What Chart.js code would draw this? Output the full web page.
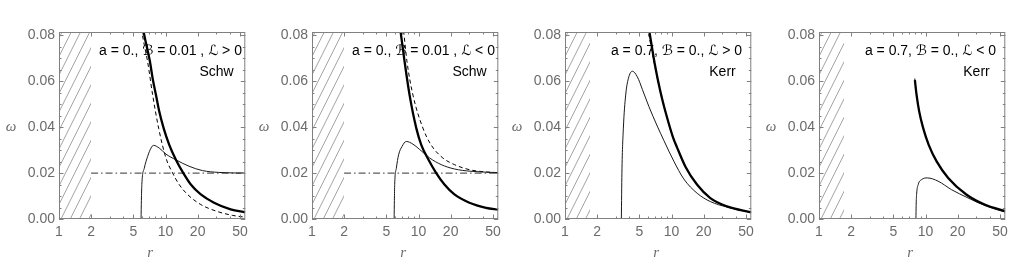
<!DOCTYPE html>
<html lang="en">
<head>
<meta charset="UTF-8">
<title>Circular orbit frequencies</title>
<script src="https://cdn.jsdelivr.net/npm/chart.js@4.4.1/dist/chart.umd.min.js"></script>
<style>
    html, body { margin: 0; padding: 0; background: #fff; }
    #wrap { position: relative; width: 1020px; height: 275px; overflow: hidden; }
    #wrap canvas { position: absolute; top: 0; }
</style>
</head>
<body>
<div id="wrap">
    <canvas id="c1" width="253" height="275" style="left:0px"></canvas>
    <canvas id="c2" width="253" height="275" style="left:253px"></canvas>
    <canvas id="c3" width="253" height="275" style="left:506px"></canvas>
    <canvas id="c4" width="253" height="275" style="left:760px"></canvas>
</div>
<script>
    // axis ticks
    var xTicks = [1, 2, 5, 10, 20, 50];
    var xMinor = [3, 4, 6, 7, 8, 9, 30, 40];
    var yTicks = [0, 0.02, 0.04, 0.06, 0.08];
    var yMinor = [0.005, 0.01, 0.015, 0.025, 0.03, 0.035, 0.045, 0.05, 0.055, 0.065, 0.07, 0.075];

    // panel 1: a = 0, B = 0.01, L > 0
    var p1ThickR = [6.05, 6.23, 7.14, 7.57, 8.13, 8.73, 9.59, 10.83, 12.5, 14.63, 17.26, 21.4, 28.5, 40.8, 56];
    var p1ThickW = [0.085, 0.0815, 0.0685, 0.0612, 0.054, 0.0468, 0.0396, 0.0323, 0.0258, 0.0201, 0.015, 0.0107, 0.0071, 0.0042, 0.0029];
    var p1DashR = [5.85, 6.01, 6.79, 7.57, 8.61, 10.08, 11.63, 13.43, 16.07, 21.4, 29.6, 42.3, 56];
    var p1DashW = [0.086, 0.0815, 0.0685, 0.054, 0.0396, 0.0266, 0.0201, 0.015, 0.0107, 0.0063, 0.0035, 0.0016, 0.0008];
    var p1ThinR = [5.89, 5.93, 5.99, 6.32, 6.79, 7.3, 7.7, 8.73, 10.08, 12.5, 16.6, 22.2, 31.6, 56];
    var p1ThinW = [0, 0.008, 0.015, 0.0222, 0.0273, 0.0309, 0.0321, 0.0309, 0.0283, 0.0258, 0.023, 0.0211, 0.0203, 0.02];

    // panel 2: a = 0, B = 0.01, L < 0
    var p2ThickR = [6.6, 6.79, 7.4, 8.24, 9.52, 10.6, 12.4, 14.6, 17.5, 21.7, 30, 43, 56];
    var p2ThickW = [0.086, 0.0815, 0.0685, 0.054, 0.0396, 0.0323, 0.0258, 0.0201, 0.015, 0.0107, 0.0071, 0.0049, 0.0041];
    var p2DashR = [7.05, 7.25, 7.79, 8.86, 10.99, 13.1, 16.9, 21.7, 30, 43, 56];
    var p2DashW = [0.085, 0.0815, 0.0685, 0.054, 0.0396, 0.0323, 0.0266, 0.0237, 0.0215, 0.0205, 0.0202];
    var p2ThinR = [5.9, 5.93, 5.97, 6.19, 6.5, 6.99, 7.67, 8.86, 10.6, 12.7, 16.3, 21.7, 31, 56];
    var p2ThinW = [0, 0.008, 0.015, 0.0222, 0.028, 0.0316, 0.0338, 0.0326, 0.0297, 0.0266, 0.0237, 0.0218, 0.0208, 0.0202];

    // Larmor line (panels 1 and 2)
    var larmorR = [2, 56];
    var larmorW = [0.02, 0.02];

    // panel 3: a = 0.7, B = 0, L > 0
    var p3ThickR = [5.95, 6.2, 6.5, 6.93, 7.45, 8.17, 9.1, 10.3, 11.3, 13.5, 17.4, 23.1, 33.1, 56];
    var p3ThickW = [0.087, 0.0815, 0.0757, 0.068, 0.0605, 0.0522, 0.044, 0.0357, 0.031, 0.0228, 0.0149, 0.0091, 0.0055, 0.0029];
    var p3DashR = [5.8, 6.05, 6.4, 6.88, 7.42, 8.15, 9.08, 10.28, 11.28, 13.48, 17.4, 23.1, 33.1, 56];
    var p3DashW = [0.087, 0.0815, 0.0757, 0.068, 0.0605, 0.0522, 0.044, 0.0357, 0.031, 0.0228, 0.0149, 0.0091, 0.0055, 0.0029];
    var p3ThinR = [3.38, 3.42, 3.53, 3.71, 3.93, 4.29, 4.77, 5.32, 6.13, 7.34, 8.47, 10.5, 13.0, 17.4, 23.1, 33.1, 56];
    var p3ThinW = [0, 0.02, 0.0396, 0.054, 0.0612, 0.0644, 0.062, 0.0565, 0.049, 0.0405, 0.0342, 0.0252, 0.0175, 0.0112, 0.0076, 0.0052, 0.0028];

    // panel 4: a = 0.7, B = 0, L < 0
    var p4ThickR = [7.94, 8.24, 8.72, 9.5, 10.7, 12.7, 16.3, 24.1, 35.8, 56];
    var p4ThickW = [0.0605, 0.054, 0.0468, 0.0396, 0.0323, 0.0251, 0.0179, 0.0107, 0.0063, 0.0034];
    var p4DashR = [7.92, 8.22, 8.7, 9.5, 10.7, 12.7, 16.3, 24.1, 35.8, 56];
    var p4DashW = [0.0612, 0.0545, 0.0472, 0.0398, 0.0325, 0.0252, 0.018, 0.0108, 0.0063, 0.0034];
    var p4ThinR = [8.12, 8.16, 8.24, 8.53, 9.2, 10.4, 13.1, 17.5, 25, 37.1, 56];
    var p4ThinW = [0, 0.006, 0.0107, 0.015, 0.0172, 0.0179, 0.0165, 0.0128, 0.0092, 0.0056, 0.003];

    var labels1 = ['a = 0., \u212C = 0.01 , \u2112 > 0', 'a = 0., \u212C = 0.01 , \u2112 < 0',
                   'a = 0.7, \u212C = 0., \u2112 > 0', 'a = 0.7, \u212C = 0., \u2112 < 0'];
    var labels2 = ['Schw', 'Schw', 'Kerr', 'Kerr'];
    var horizons = [2, 2, 1.714, 1.714];

    var GRAY_TEXT = '#6b6b6b';
    var GRAY_FRAME = '#808080';

    function pts(rs, ws) {
        return rs.map(function(r, i) { return { x: r, y: ws[i] }; });
    }

    // hatching, frame with inward ticks, labels and axis titles
    var framePlugin = {
        id: 'frame',
        beforeDatasetsDraw: function(chart, args, o) {
            var ctx = chart.ctx, a = chart.chartArea;
            var xh = chart.scales.x.getPixelForValue(o.horizon);
            ctx.save();
            ctx.beginPath();
            ctx.rect(a.left, a.top, xh - a.left, a.bottom - a.top);
            ctx.clip();
            ctx.strokeStyle = '#a3a3a3';
            ctx.lineWidth = 1;
            ctx.beginPath();
            for (var y0 = a.top + 6; y0 < a.bottom + 100; y0 += 18.5) {
                ctx.moveTo(a.left, y0);
                ctx.lineTo(a.left + 50, y0 - 100);
            }
            ctx.stroke();
            ctx.restore();
        },
        afterDraw: function(chart, args, o) {
            var ctx = chart.ctx, a = chart.chartArea;
            var xs = chart.scales.x, ys = chart.scales.y;
            ctx.save();

            // labels
            ctx.fillStyle = '#000';
            ctx.font = '14px "Liberation Sans", Arial, "DejaVu Sans", sans-serif';
            ctx.textAlign = 'center';
            ctx.textBaseline = 'middle';
            ctx.fillText(o.line1, a.left + 111.5, 51);
            ctx.fillText(o.line2, a.left + 157.5, 72);

            // frame
            ctx.strokeStyle = GRAY_FRAME;
            ctx.lineWidth = 1;
            ctx.strokeRect(a.left + 0.5, a.top + 0.5, a.right - a.left - 1, a.bottom - a.top - 1);

            ctx.beginPath();
            function xTick(v, len) {
                var px = Math.round(xs.getPixelForValue(v)) + 0.5;
                ctx.moveTo(px, a.bottom); ctx.lineTo(px, a.bottom - len);
                ctx.moveTo(px, a.top); ctx.lineTo(px, a.top + len);
            }
            function yTick(v, len) {
                var py = Math.round(ys.getPixelForValue(v)) + 0.5;
                ctx.moveTo(a.left, py); ctx.lineTo(a.left + len, py);
                ctx.moveTo(a.right, py); ctx.lineTo(a.right - len, py);
            }
            xTicks.forEach(function(v) { xTick(v, 4.5); });
            xMinor.forEach(function(v) { xTick(v, 2.5); });
            yTicks.forEach(function(v) { yTick(v, 4.5); });
            yMinor.forEach(function(v) { yTick(v, 2.5); });
            ctx.stroke();

            // axis titles
            ctx.fillStyle = GRAY_TEXT;
            ctx.font = 'italic 15px "Liberation Serif", "Times New Roman", serif';
            ctx.fillText('\u03C9', a.left - 48, 127);
            ctx.fillText('r', (a.left + a.right) / 2 - 2, 253);
            ctx.restore();
        }
    };

    function makePanel(id, idx, thick, dash, thin, larmor) {
        var datasets = [
            { data: thick, borderColor: '#000', borderWidth: 2.3, order: 1 },
            { data: thin, borderColor: '#1a1a1a', borderWidth: 1, order: 2 },
            { data: dash, borderColor: '#000', borderWidth: 1, borderDash: [4, 3], order: 3 }
        ];
        if (larmor) {
            datasets.push({ data: larmor, borderColor: '#333', borderWidth: 1, borderDash: [7, 3, 1.5, 3], order: 4 });
        }
        datasets.forEach(function(d) {
            d.showLine = true;
            d.pointRadius = 0;
            d.fill = false;
            d.cubicInterpolationMode = 'monotone';
        });

        new Chart(document.getElementById(id), {
            type: 'scatter',
            data: { datasets: datasets },
            plugins: [framePlugin],
            options: {
                responsive: false,
                animation: false,
                devicePixelRatio: 1,
                layout: { padding: { left: 0, right: 6, top: 32, bottom: 0 } },
                plugins: {
                    legend: { display: false },
                    tooltip: { enabled: false },
                    frame: { horizon: horizons[idx], line1: labels1[idx], line2: labels2[idx] }
                },
                scales: {
                    x: {
                        type: 'logarithmic',
                        min: 1,
                        max: 56,
                        grid: { display: false, drawTicks: false },
                        border: { display: false },
                        afterBuildTicks: function(scale) {
                            scale.ticks = xTicks.map(function(v) { return { value: v }; });
                        },
                        afterFit: function(scale) { scale.height = 56; },
                        ticks: {
                            autoSkip: false,
                            maxRotation: 0,
                            padding: 5,
                            color: GRAY_TEXT,
                            font: { family: '"Liberation Sans", Arial, sans-serif', size: 14 },
                            callback: function(v) { return String(v); }
                        }
                    },
                    y: {
                        min: 0,
                        max: 0.0815,
                        grid: { display: false, drawTicks: false },
                        border: { display: false },
                        afterBuildTicks: function(scale) {
                            scale.ticks = yTicks.map(function(v) { return { value: v }; });
                        },
                        afterFit: function(scale) { scale.width = 59; },
                        ticks: {
                            padding: 4,
                            color: GRAY_TEXT,
                            font: { family: '"Liberation Sans", Arial, sans-serif', size: 14 },
                            callback: function(v) { return v.toFixed(2); }
                        }
                    }
                }
            }
        });
    }

    makePanel('c1', 0, pts(p1ThickR, p1ThickW), pts(p1DashR, p1DashW), pts(p1ThinR, p1ThinW), pts(larmorR, larmorW));
    makePanel('c2', 1, pts(p2ThickR, p2ThickW), pts(p2DashR, p2DashW), pts(p2ThinR, p2ThinW), pts(larmorR, larmorW));
    makePanel('c3', 2, pts(p3ThickR, p3ThickW), pts(p3DashR, p3DashW), pts(p3ThinR, p3ThinW), null);
    makePanel('c4', 3, pts(p4ThickR, p4ThickW), pts(p4DashR, p4DashW), pts(p4ThinR, p4ThinW), null);
</script>
</body>
</html>
